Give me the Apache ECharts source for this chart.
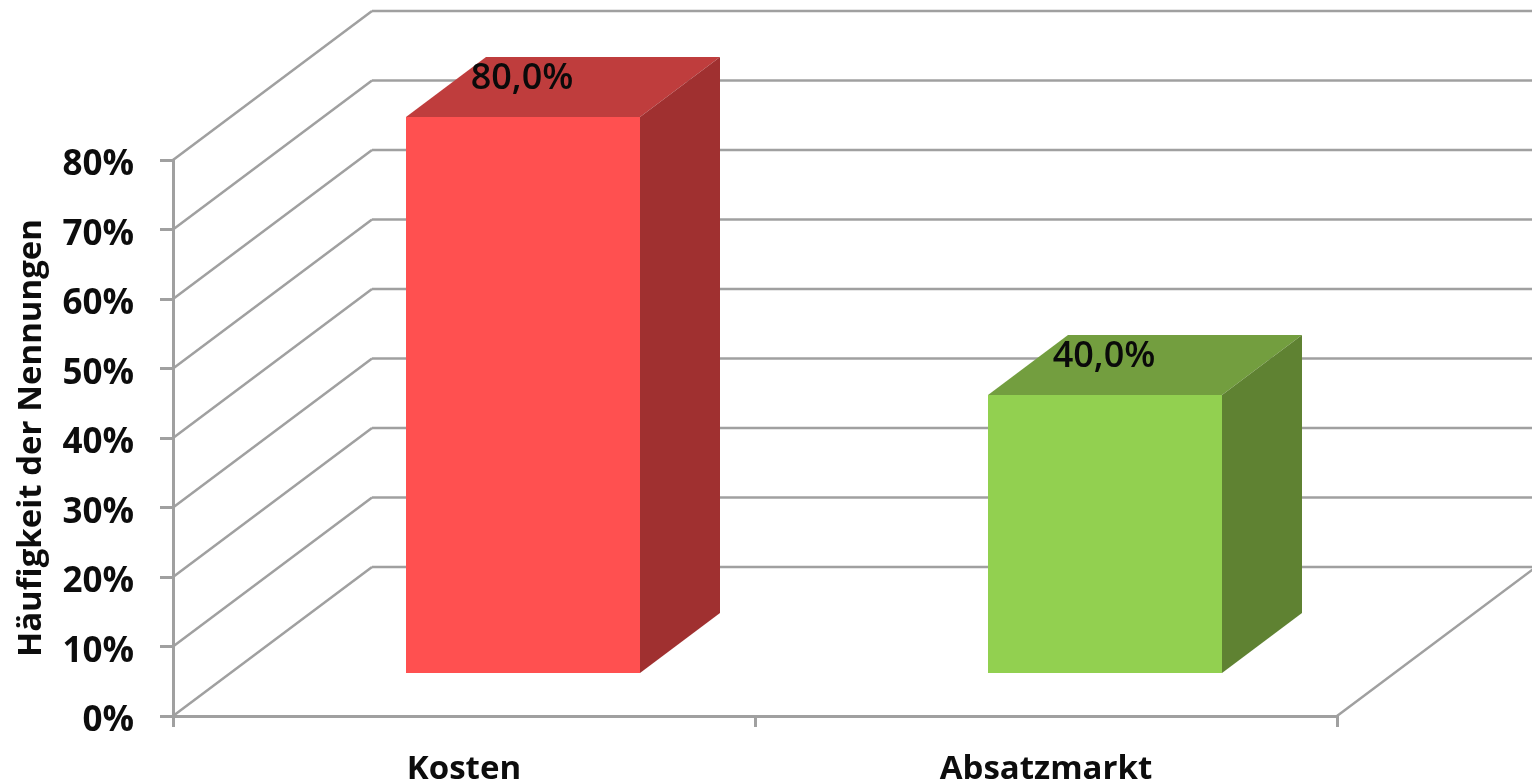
<!DOCTYPE html>
<html><head><meta charset="utf-8">
<style>html,body{margin:0;padding:0;background:#fff}#c{width:1532px;height:784px}</style>
<script src="https://cdn.jsdelivr.net/npm/echarts@6/dist/echarts.min.js"></script>
</head><body><div id="c"></div>
<script>
const categories = ['Kosten', 'Absatzmarkt'];
const values = [80, 40];
const valueLabels = ['80,0%', '40,0%'];
const ticks = [0, 10, 20, 30, 40, 50, 60, 70, 80];
const frontColors = ['#ff5050', '#92d050'];
const topColors = ['#bf3d3d', '#739e3f'];
const sideColors = ['#a03030', '#5f8232'];

const FONT = '"Open Sans"';
const GRID = '#a0a0a0';
const wallDX = 199, wallDY = -149;      // depth of the chart box
const barOffX = 59, barOffY = -43;      // bar front plane inside the box
const barDX = 80, barDY = -60;          // depth of each bar
const barWidth = 234;

const chart = echarts.init(document.getElementById('c'), null, {renderer: 'canvas'});
const lineStyle = {stroke: GRID, lineWidth: 2.5, fill: null};

chart.setOption({
  animation: false,
  backgroundColor: '#fff',
  grid: {left: 173, right: 195, top: 160, bottom: 68, outerBoundsMode: 'none'},
  xAxis: {
    type: 'category', data: categories, boundaryGap: true,
    axisLine: {lineStyle: {color: GRID, width: 3}},
    axisTick: {show: true, length: 11, lineStyle: {color: GRID, width: 3}},
    axisLabel: {color: '#0d0d0d', fontFamily: FONT, fontWeight: 'bold', fontSize: 33, margin: 37}
  },
  yAxis: {
    type: 'value', min: 0, max: 80, interval: 10,
    name: 'Häufigkeit der Nennungen', nameLocation: 'middle', nameGap: 125, nameRotate: 90,
    nameTextStyle: {color: '#0d0d0d', fontFamily: FONT, fontWeight: 'bold', fontSize: 33},
    axisLine: {show: true, lineStyle: {color: GRID, width: 3}},
    axisTick: {show: true, length: 13, lineStyle: {color: GRID, width: 3}},
    axisLabel: {margin: 39, formatter: v => '{a|' + v + '%}',
      rich: {a: {color: '#0d0d0d', fontFamily: FONT, fontWeight: 'bold', fontSize: 35, padding: [11, 0, 0, 0]}}},
    splitLine: {show: false}
  },
  series: [
    {
      type: 'custom', silent: true, clip: false, z: 1,
      data: ticks.map(t => [0, t]),
      renderItem(params, api) {
        const p = api.coord([0, api.value(1)]);
        const size = api.size([1, 0]);
        const left = p[0] - size[0] / 2;
        const children = [
          {type: 'line', shape: {x1: left, y1: p[1], x2: left + wallDX, y2: p[1] + wallDY}, style: lineStyle},
          {type: 'line', shape: {x1: left + wallDX, y1: p[1] + wallDY, x2: 1600, y2: p[1] + wallDY}, style: lineStyle}
        ];
        if (api.value(1) === 0) {
          const right = left + size[0] * categories.length;
          children.push({type: 'line', shape: {x1: right, y1: p[1], x2: right + wallDX, y2: p[1] + wallDY}, style: lineStyle});
        }
        return {type: 'group', children};
      }
    },
    {
      type: 'custom', silent: true, clip: false, z: 2,
      data: values.map((v, i) => [i, v]),
      renderItem(params, api) {
        const i = api.value(0);
        const top = api.coord([i, api.value(1)]);
        const base = api.coord([i, 0]);
        const x0 = top[0] + barOffX - barWidth / 2, x1 = x0 + barWidth;
        const y0 = top[1] + barOffY, y1 = base[1] + barOffY;
        return {type: 'group', children: [
          {type: 'polygon', shape: {points: [[x0, y0], [x1, y0], [x1 + barDX, y0 + barDY], [x0 + barDX, y0 + barDY]]}, style: {fill: topColors[i]}},
          {type: 'polygon', shape: {points: [[x1, y0], [x1 + barDX, y0 + barDY], [x1 + barDX, y1 + barDY], [x1, y1]]}, style: {fill: sideColors[i]}},
          {type: 'rect', shape: {x: x0, y: y0, width: barWidth, height: y1 - y0}, style: {fill: frontColors[i]}},
          {type: 'text', x: (x0 + x1) / 2 - 1, y: y0 - 38, style: {text: valueLabels[i], fill: '#0a0a0a', font: '600 36px ' + FONT, align: 'center', verticalAlign: 'middle'}}
        ]};
      }
    }
  ]
});
</script></body></html>
